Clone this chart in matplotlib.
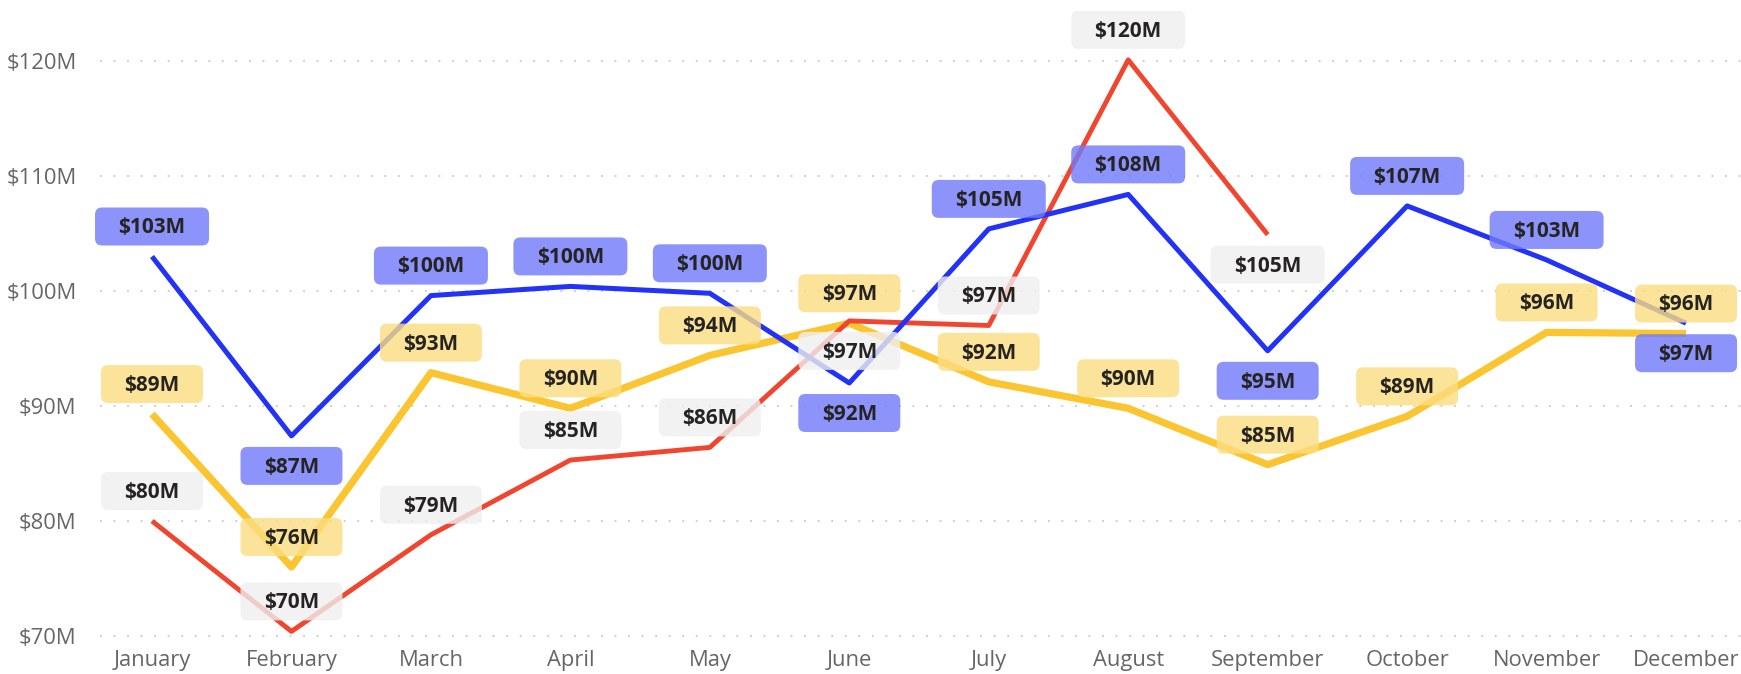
import matplotlib
matplotlib.use("Agg")
import matplotlib.pyplot as plt
import matplotlib.transforms as mtransforms
from matplotlib.patches import FancyBboxPatch
from matplotlib.ticker import FuncFormatter

plt.rcParams['font.family'] = ['Open Sans', 'DejaVu Sans']

# data (millions of $)
months = ["January", "February", "March", "April", "May", "June",
          "July", "August", "September", "October", "November", "December"]
blue_vals = [103.0, 87.4, 99.6, 100.4, 99.8, 92.0, 105.4, 108.4, 94.8, 107.4, 102.7, 97.2]
yellow_vals = [89.3, 76.0, 92.9, 89.8, 94.4, 97.2, 92.1, 89.8, 84.9, 89.1, 96.4, 96.3]
red_vals = [80.0, 70.4, 78.8, 85.3, 86.4, 97.4, 97.0, 120.1, 104.9]

# label above (1) or below (-1) the point
blue_side = [1, -1, 1, 1, 1, -1, 1, 1, -1, 1, 1, -1]
yellow_side = [1] * 12
red_side = [1, 1, 1, 1, 1, -1, 1, 1, -1]

W, H = 1741, 674
fig = plt.figure(figsize=(W / 100, H / 100), dpi=100)
ax = fig.add_axes([100 / W, (H - 640) / H, (W - 100) / W, 640 / H])

x_blue = list(range(len(blue_vals)))
x_yellow = list(range(len(yellow_vals)))
x_red = list(range(len(red_vals)))

ax.plot(x_yellow, yellow_vals, color='#FAC530', lw=5.2, solid_capstyle='butt', zorder=2)
ax.plot(x_red, red_vals, color='#F0452F', lw=3.5, solid_capstyle='butt', zorder=2.2)
ax.plot(x_blue, blue_vals, color='#2233F7', lw=3.6, solid_capstyle='butt', zorder=2.4)

ax.set_xlim(-0.373, 11.394)
ax.set_ylim(70 - 4 / 11.5, 70 + 636 / 11.5)
ax.set_yticks([70, 80, 90, 100, 110, 120])
ax.yaxis.set_major_formatter(FuncFormatter(lambda v, p: f"${v:.0f}M"))
ax.set_xticks(range(12))
ax.set_xticklabels(months)
ax.tick_params(axis='both', length=0, labelsize=15.8, labelcolor='#666666')
ax.tick_params(axis='y', pad=17)
ax.tick_params(axis='x', pad=7)
for s in ax.spines.values():
    s.set_visible(False)
ax.grid(axis='y', color='#C8C8C8', lw=1.3, linestyle=(0, (1, 6.5)))
ax.set_axisbelow(True)


def add_labels(vals, sides, face, alpha):
    for i, (v, side) in enumerate(zip(vals, sides)):
        txt = f"${round(v):.0f}M"
        dy = 30 * side
        w = 12 * len(txt) + 54
        h = 38
        tr = mtransforms.Affine2D() + mtransforms.ScaledTranslation(i, v, ax.transData)
        box = FancyBboxPatch((-w / 2, dy - h / 2), w, h,
                             boxstyle='round,pad=0,rounding_size=7',
                             transform=tr, fc=face, ec='none', alpha=alpha,
                             zorder=4, clip_on=False)
        ax.add_patch(box)
        ax.annotate(txt, (i, v), xytext=(0, dy * 0.72 - 1), textcoords='offset points',
                    ha='center', va='center', fontsize=15, fontweight='bold',
                    color='#252423', zorder=6)


add_labels(red_vals, red_side, '#EFEFEF', 0.8)
add_labels(yellow_vals, yellow_side, '#FCDD81', 0.8)
add_labels(blue_vals, blue_side, '#707AFB', 0.8)

fig.savefig("out.png", dpi=100)
